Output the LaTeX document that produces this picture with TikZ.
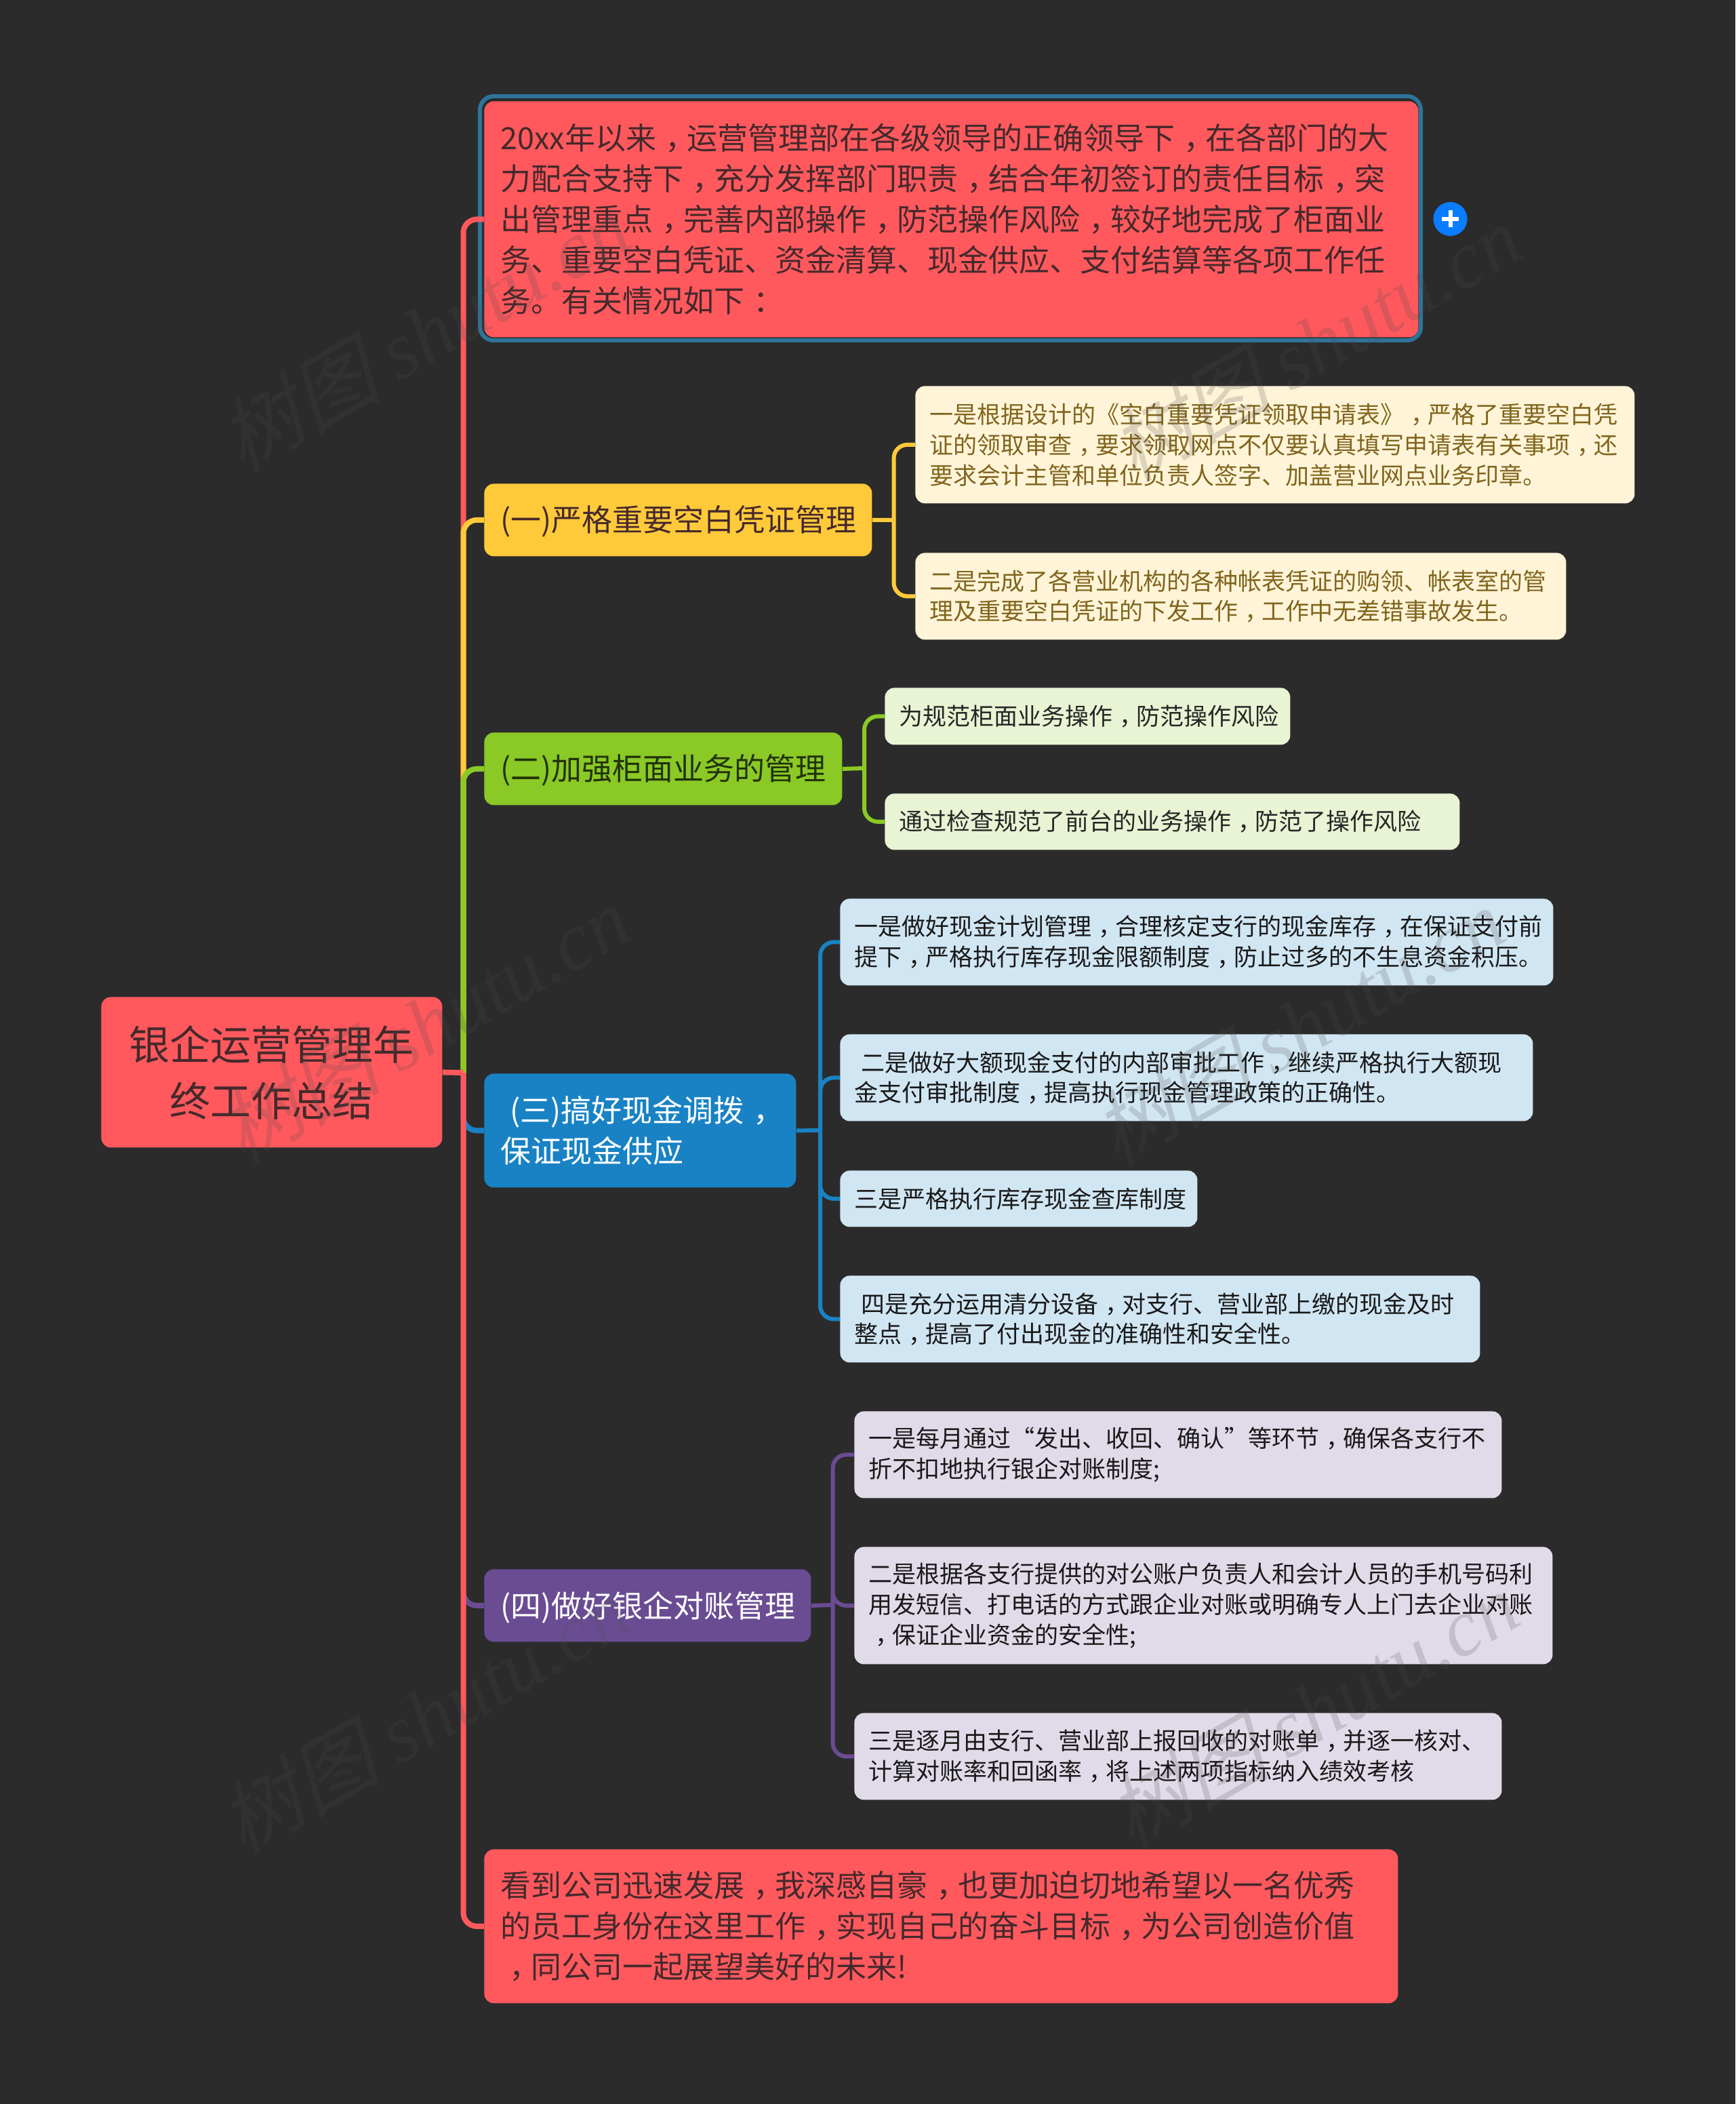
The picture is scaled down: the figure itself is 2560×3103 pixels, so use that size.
\documentclass[tikz,border=0pt]{standalone}
\usepackage{fontspec}
\setmainfont{Noto Sans CJK SC}
\newfontfamily\stampcjk[FakeSlant=0.25]{Noto Sans CJK SC}
\newfontfamily\stamplatin{Liberation Serif}
\definecolor{canvas}{HTML}{2B2B2B}
\definecolor{redbranch}{HTML}{FF595E}
\definecolor{yellowbranch}{HTML}{FFCA3A}
\definecolor{greenbranch}{HTML}{8AC926}
\definecolor{bluebranch}{HTML}{1982C4}
\definecolor{purplebranch}{HTML}{6A4C93}
\definecolor{yellowleaf}{HTML}{FFF4D8}
\definecolor{greenleaf}{HTML}{E8F4D4}
\definecolor{blueleaf}{HTML}{D1E6F3}
\definecolor{purpleleaf}{HTML}{E1DBE9}
\definecolor{redtext}{HTML}{45292B}
\definecolor{ring}{HTML}{2E7499}
\definecolor{plusblue}{HTML}{0A7CFF}
% comma and colon sit in the middle of their cell
\catcode`，=\active
\protected\def，{\leavevmode\kern.3em\char"FF0C\kern-.3em}
\catcode`：=\active
\protected\def：{\leavevmode\kern.3em\char"FF1A\kern-.3em}
\tikzset{
  every picture/.style={line join=round},
  topic/.style={anchor=north west, rounded corners=7pt, inner xsep=12pt, inner ysep=0pt,
    align=left, font=\fontsize{22.5}{30}\selectfont},
  leaf/.style={anchor=north west, rounded corners=7pt, inner xsep=10.5pt, inner ysep=0pt,
    align=left, font=\fontsize{17.5}{22.4}\selectfont},
  trunk/.style={line width=4pt},
  twig/.style={line width=3pt},
  softbend/.style={rounded corners=10pt},
  stamp/.style={rotate=30, text=black!70, text opacity=0.2, inner sep=0pt},
}
\newcommand{\stamptext}{\fontsize{60}{60}\selectfont\stampcjk 树图 \stamplatin\itshape shutu.cn}
\begin{document}
\begin{tikzpicture}[x=0.5pt,y=-0.5pt]
\useasboundingbox (0,0) rectangle (2560,3103);
\fill[canvas] (0,0) rectangle (2560,3103);

% main topics
\node (root) at (149,1470) [anchor=north west, rounded corners=7pt, fill=redbranch, text=redtext,
  minimum width=251.5pt, minimum height=111pt, inner sep=0pt, align=center,
  font=\fontsize{30}{41.5}\selectfont] {银企运营管理年\\终工作总结};
\node (intro) at (714,149) [topic, fill=redbranch, text=redtext, text width=665pt, minimum height=174pt]
  {20xx年以来，运营管理部在各级领导的正确领导下，在各部门的大\\
   力配合支持下，充分发挥部门职责，结合年初签订的责任目标，突\\
   出管理重点，完善内部操作，防范操作风险，较好地完成了柜面业\\
   务、重要空白凭证、资金清算、现金供应、支付结算等各项工作任\\
   务。有关情况如下：};
\node (one) at (714,713) [topic, fill=yellowbranch, text=redtext, text width=262pt, minimum height=53.5pt, text depth=2pt]
  {(一)严格重要空白凭证管理};
\node (two) at (714,1080) [topic, fill=greenbranch, text=black!75!greenbranch, text width=240pt, minimum height=53.5pt, text depth=2pt]
  {(二)加强柜面业务的管理};
\node (three) at (714,1583) [topic, fill=bluebranch, text=white, text width=206pt, minimum height=84pt]
  {\hspace*{7pt}(三)搞好现金调拨，\\保证现金供应};
\node (four) at (714,2314) [topic, fill=purplebranch, text=white, text width=217pt, minimum height=53.5pt, text depth=2pt]
  {(四)做好银企对账管理};
\node (outro) at (714,2727) [topic, fill=redbranch, text=redtext, text width=650pt, minimum height=113.5pt]
  {看到公司迅速发展，我深感自豪，也更加迫切地希望以一名优秀\\
   的员工身份在这里工作，实现自己的奋斗目标，为公司创造价值\\
   ，同公司一起展望美好的未来!};

% leaves
\node (onea) at (1350,569) [leaf, fill=yellowleaf, text=yellowbranch!50!black, text width=509.5pt, minimum height=86.5pt]
  {一是根据设计的《空白重要凭证领取申请表》，严格了重要空白凭\\
   证的领取审查，要求领取网点不仅要认真填写申请表有关事项，还\\
   要求会计主管和单位负责人签字、加盖营业网点业务印章。};
\node (oneb) at (1350,815) [leaf, fill=yellowleaf, text=yellowbranch!50!black, text width=459pt, minimum height=64pt]
  {二是完成了各营业机构的各种帐表凭证的购领、帐表室的管\\
   理及重要空白凭证的下发工作，工作中无差错事故发生。};
\node (twoa) at (1305,1014) [leaf, fill=greenleaf, text=black!85, text width=278pt, minimum height=42pt]
  {为规范柜面业务操作，防范操作风险};
\node (twob) at (1305,1170) [leaf, fill=greenleaf, text=black!85, text width=403pt, minimum height=41.5pt]
  {通过检查规范了前台的业务操作，防范了操作风险};
\node (threea) at (1239,1325) [leaf, fill=blueleaf, text=black!90, text width=505pt, minimum height=64pt]
  {一是做好现金计划管理，合理核定支行的现金库存，在保证支付前\\
   提下，严格执行库存现金限额制度，防止过多的不生息资金积压。};
\node (threeb) at (1239,1525) [leaf, fill=blueleaf, text=black!90, text width=490pt, minimum height=64pt]
  {\hspace*{5pt}二是做好大额现金支付的内部审批工作，继续严格执行大额现\\
   金支付审批制度，提高执行现金管理政策的正确性。};
\node (threec) at (1239,1726) [leaf, fill=blueleaf, text=black!90, text width=242.5pt, minimum height=41.5pt]
  {三是严格执行库存现金查库制度};
\node (threed) at (1239,1881) [leaf, fill=blueleaf, text=black!90, text width=451pt, minimum height=64pt]
  {\hspace*{5pt}四是充分运用清分设备，对支行、营业部上缴的现金及时\\
   整点，提高了付出现金的准确性和安全性。};
\node (foura) at (1260,2081) [leaf, fill=purpleleaf, text=black!90, text width=456.5pt, minimum height=64pt]
  {一是每月通过“发出、收回、确认”等环节，确保各支行不\\
   折不扣地执行银企对账制度;};
\node (fourb) at (1260,2281) [leaf, fill=purpleleaf, text=black!90, text width=494pt, minimum height=86.5pt]
  {二是根据各支行提供的对公账户负责人和会计人员的手机号码利\\
   用发短信、打电话的方式跟企业对账或明确专人上门去企业对账\\
   ，保证企业资金的安全性;};
\node (fourc) at (1260,2526) [leaf, fill=purpleleaf, text=black!90, text width=456.5pt, minimum height=64pt]
  {三是逐月由支行、营业部上报回收的对账单，并逐一核对、\\
   计算对账率和回函率，将上述两项指标纳入绩效考核};

% selection ring and expand button
\draw[ring, line width=3pt, rounded corners=10pt] (708,142) rectangle (2096,502);
\node (expand) at (2139.5,323) [circle, fill=plusblue, minimum size=25pt, inner sep=0pt] {};
\draw[white, line width=3pt] (2127,323) -- (2152,323);
\draw[white, line width=3pt] (2139.5,310.5) -- (2139.5,335.5);

% hubs
\coordinate (hub) at (683.5,1582);
\coordinate (hubone) at (1318.5,767);
\coordinate (hubtwo) at (1275,1133);
\coordinate (hubthree) at (1210,1667);
\coordinate (hubfour) at (1228.5,2367);

% trunk, later branches lie over earlier ones
\draw[trunk, softbend, redbranch] (hub) |- (intro.west);
\draw[trunk, softbend, yellowbranch] (hub) |- (one.west);
\draw[trunk, softbend, greenbranch] (hub) |- (two.west);
\draw[trunk, softbend, bluebranch] (hub) |- (three.west);
\draw[trunk, softbend, purplebranch] (hub) |- (four.west);
\draw[trunk, softbend, redbranch] (hub) |- (outro.west);
\draw[trunk, redbranch] (root.east) -- (hub);

% twigs
\draw[twig, yellowbranch] (one.east) -- (hubone);
\draw[twig, softbend, yellowbranch] (hubone) |- (onea.west);
\draw[twig, softbend, yellowbranch] (hubone) |- (oneb.west);
\draw[twig, greenbranch] (two.east) -- (hubtwo);
\draw[twig, softbend, greenbranch] (hubtwo) |- (twoa.west);
\draw[twig, softbend, greenbranch] (hubtwo) |- (twob.west);
\draw[twig, bluebranch] (three.east) -- (hubthree);
\draw[twig, softbend, bluebranch] (hubthree) |- (threea.west);
\draw[twig, softbend, bluebranch] (hubthree) |- (threeb.west);
\draw[twig, softbend, bluebranch] (hubthree) |- (threec.west);
\draw[twig, softbend, bluebranch] (hubthree) |- (threed.west);
\draw[twig, purplebranch] (four.east) -- (hubfour);
\draw[twig, softbend, purplebranch] (hubfour) |- (foura.west);
\draw[twig, softbend, purplebranch] (hubfour) |- (fourb.west);
\draw[twig, softbend, purplebranch] (hubfour) |- (fourc.west);

% watermark
\node (stampa) at (625,490) [stamp] {\stamptext};
\node (stampb) at (1940,505) [stamp] {\stamptext};
\node (stampc) at (625,1510) [stamp] {\stamptext};
\node (stampd) at (1915,1513) [stamp] {\stamptext};
\node (stampe) at (625,2530) [stamp] {\stamptext};
\node (stampf) at (1936,2522) [stamp] {\stamptext};
\end{tikzpicture}
\end{document}
